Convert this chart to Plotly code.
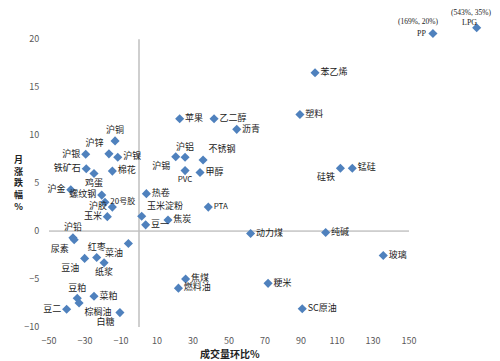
import plotly.graph_objects as go

names = ["沪铜", "沪银", "沪锌", "沪镍", "铁矿石", "鸡蛋", "棉花", "沪金", "螺纹钢", "沪胶",
         "20号胶", "玉米", "沪铅", "尿素", "红枣", "豆油", "纸浆", "菜油", "豆粕", "菜粕",
         "棕榈油", "豆二", "白糖", "热卷", "玉米淀粉", "豆一", "焦炭", "沪锡", "沪铝", "不锈钢",
         "PVC", "甲醇", "PTA", "苹果", "乙二醇", "沥青", "苯乙烯", "塑料", "硅铁", "锰硅",
         "动力煤", "纯碱", "焦煤", "燃料油", "粳米", "SC原油", "玻璃", "PP", "LPG"]
vol_change = [-13.3, -29.6, -16.7, -11.8, -29.3, -25.0, -14.8, -37.9, -20.7, -14.8,
              -18.9, -17.6, -36.7, -36.0, -23.5, -30.2, -19.4, -5.9, -34.3, -25.0,
              -33.3, -40.2, -10.6, 4.1, 1.5, 3.7, 16.1, 20.4, 25.6, 35.6,
              25.6, 33.9, 38.5, 22.6, 41.7, 54.3, 97.8, 89.4, 111.9, 118.5,
              62.0, 103.7, 25.9, 21.9, 71.7, 90.7, 135.7, 163.3, 187.6]
month_change = [9.4, 8.0, 8.05, 7.7, 6.5, 6.0, 6.25, 4.3, 3.75, 2.5,
                3.0, 1.5, -0.7, -0.9, -2.75, -2.85, -3.3, -1.3, -7.0, -6.8,
                -7.5, -8.15, -8.5, 3.9, 1.55, 0.65, 1.15, 7.75, 7.7, 7.4,
                6.3, 6.1, 2.5, 11.7, 11.7, 10.6, 16.5, 12.15, 6.55, 6.55,
                -0.25, -0.15, -5.0, -5.95, -5.45, -8.1, -2.55, 20.6, 21.2]
# PP and LPG are drawn clipped near the top-right corner; their true values:
outlier_names = ["PP", "LPG"]
outlier_true = ["(169%, 20%)", "(543%, 35%)"]

x_ticks = [-50, -30, -10, 10, 30, 50, 70, 90, 110, 130, 150]
y_ticks = [-10, -5, 0, 5, 10, 15, 20]

label_pos = {
    "沪铜": "top center", "沪银": "middle left", "沪锌": "top left", "沪镍": "middle right",
    "铁矿石": "middle left", "鸡蛋": "bottom center", "棉花": "middle right", "沪金": "middle left",
    "螺纹钢": "middle left", "沪胶": "middle left", "20号胶": "middle right", "玉米": "middle left",
    "沪铅": "top center", "尿素": "bottom left", "红枣": "top center", "豆油": "bottom left",
    "纸浆": "bottom center", "菜油": "bottom left", "豆粕": "top center", "菜粕": "middle right",
    "棕榈油": "bottom right", "豆二": "middle left", "白糖": "bottom left", "热卷": "middle right",
    "玉米淀粉": "top right", "豆一": "middle right", "焦炭": "middle right", "沪锡": "bottom left",
    "沪铝": "top center", "不锈钢": "top right", "PVC": "bottom center", "甲醇": "middle right",
    "PTA": "middle right", "硅铁": "bottom left",
}
positions = [label_pos.get(n, "middle right") for n in names]
point_text = ["" if n in outlier_names else n for n in names]
small = {"PVC", "PTA", "20号胶"}
sizes = [8 if n in small else 9 for n in names]

fig = go.Figure()
fig.add_trace(go.Scatter(
    x=vol_change, y=month_change, mode="markers+text",
    text=point_text, textposition=positions,
    textfont=dict(size=sizes, family="Noto Sans CJK SC", color="#222222"),
    marker=dict(symbol="diamond", size=7, color="#4f81bd"),
    cliponaxis=False, showlegend=False, hoverinfo="skip",
))

# zero axis lines
fig.add_shape(type="line", x0=x_ticks[0], x1=x_ticks[-1], y0=0, y1=0,
              line=dict(color="#a6a6a6", width=1), layer="below")
fig.add_shape(type="line", x0=0, x1=0, y0=y_ticks[0], y1=y_ticks[-1],
              line=dict(color="#bfbfbf", width=1.5), layer="below")

serif = "SimSun, Liberation Serif, serif"
label_shift = {"PP": (-11, 0), "LPG": (-7, 5.5)}
coord_shift = {"PP": (-15, 11.5), "LPG": (-6, 15)}
for n, t in zip(outlier_names, outlier_true):
    i = names.index(n)
    lx, ly = label_shift[n]
    cx, cy = coord_shift[n]
    fig.add_annotation(x=vol_change[i], y=month_change[i], text=n, showarrow=False,
                       xshift=lx, yshift=ly,
                       font=dict(size=8, family=serif, color="#222222"))
    fig.add_annotation(x=vol_change[i], y=month_change[i], text=t, showarrow=False,
                       xshift=cx, yshift=cy,
                       font=dict(size=7.5, family=serif, color="#222222"))

# figure sits at (8, 8) inside the page because of the default body margin
PW, PH = 441, 307
fig.add_annotation(xref="paper", yref="paper", x=(222 - 41) / PW, y=-26 / PH,
                   text="<b>成交量环比%</b>", showarrow=False, yanchor="middle",
                   font=dict(size=10, family="Noto Sans CJK SC", color="#222222"))
fig.add_annotation(xref="paper", yref="paper", x=-30 / PW, y=(319 - 175) / PH,
                   text="<b>月<br>涨<br>跌<br>幅<br>%</b>", showarrow=False,
                   xanchor="center", yanchor="middle",
                   font=dict(size=9, family="Noto Sans CJK SC", color="#222222"))

fig.update_layout(
    width=492, height=353,
    margin=dict(l=41, r=10, t=12, b=34, autoexpand=False),
    plot_bgcolor="white", paper_bgcolor="white",
    font=dict(family="Noto Sans CJK SC", size=9, color="#595959"),
    xaxis=dict(range=[-50, 195], tickvals=x_ticks, showgrid=False, zeroline=False,
               showline=False, ticks="outside", ticklen=5, tickcolor="rgba(0,0,0,0)",
               tickfont=dict(size=9, color="#595959")),
    yaxis=dict(range=[-10, 22], tickvals=y_ticks, showgrid=False, zeroline=False,
               showline=False, ticks="outside", ticklen=7, tickcolor="rgba(0,0,0,0)",
               tickfont=dict(size=9, color="#595959")),
)

fig.write_html("out.html")
